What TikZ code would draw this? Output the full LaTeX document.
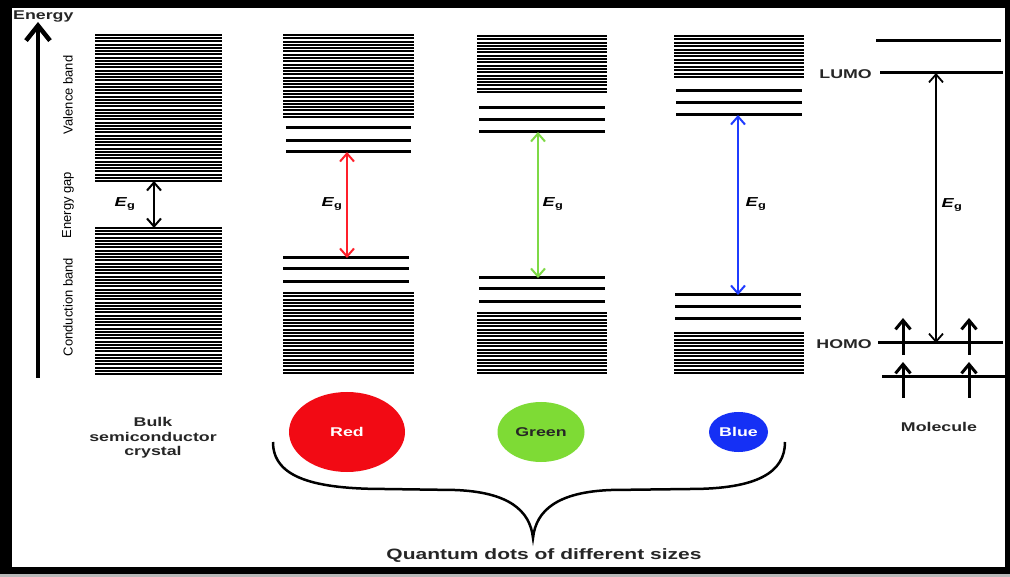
\documentclass[tikz,border=0pt]{standalone}
\usepackage{fontspec}
\setmainfont{Liberation Sans}
\newfontfamily\wf{Liberation Sans}[FakeStretch=1.4]
\usetikzlibrary{arrows.meta,shapes.geometric}
\newcommand\dband[5]{\foreach \i in {0,...,#5}{\draw[dense] (#1,{#3+\i*(#4-#3)/#5}) -- (#2,{#3+\i*(#4-#3)/#5});}}
\definecolor{qred}{HTML}{F20A14}
\definecolor{qgreen}{HTML}{7EDB35}
\definecolor{qblue}{HTML}{1530F5}
\definecolor{ared}{HTML}{FF1F2A}
\definecolor{agreen}{HTML}{7ED946}
\definecolor{ablue}{HTML}{1F3CFF}
\begin{document}
\begin{tikzpicture}[x=1pt,y=-1pt,
  dense/.style={line width=2pt},
  level/.style={line width=3pt},
  lab/.style={font=\wf\bfseries\fontsize{12.7}{14.5}\selectfont, inner sep=0pt, align=center, text=black!85},
  side/.style={font=\fontsize{13}{14}\selectfont, rotate=90, inner sep=0pt},
  eg/.style={font=\wf\bfseries\fontsize{13}{14}\selectfont, inner sep=0pt},
  gap/.style={line width=2pt, {Straight Barb[length=8pt,width=14pt]}-{Straight Barb[length=8pt,width=14pt]}},
  spin/.style={line width=3pt, -{Straight Barb[length=9pt,width=15pt]}},
  dot/.style={ellipse, inner sep=0pt, font=\wf\bfseries\fontsize{12.7}{14}\selectfont},
]
\useasboundingbox (0,0) rectangle (1010,577);
% frame
\fill[black] (0,0) rectangle (1010,577);
\fill[white] (12,8) rectangle (1005,567);
\fill[gray!55] (0,574) rectangle (1010,577);

% energy axis
\node[lab, anchor=west] (energy) at (13,16) {Energy};
\coordinate (ax0) at (38,378);
\coordinate (ax1) at (38,22);
\draw[line width=4.5pt, -{Straight Barb[length=15pt,width=24pt]}] (ax0) -- (ax1);
\node[side] (vb) at (68,95) {Valence band};
\node[side] (eglab) at (68,205) {Energy gap};
\node[side] (cb) at (68,307) {Conduction band};

% bulk
\dband{95}{222}{35}{181}{45}
\dband{95}{222}{228}{374}{45}
\coordinate (bT) at (154,181);
\coordinate (bB) at (154,228);
\draw[gap, black] (bT) -- (bB);
\node[eg] (egb) at (125,204) {\textit{E}\textsubscript{g}};

% red
\dband{283}{414}{35}{117}{25}
\foreach \y in {128,141,152} \draw[level] (286,\y) -- (411,\y);
\foreach \y in {258,269,282} \draw[level] (283,\y) -- (409,\y);
\dband{283}{414}{293}{373}{24}
\coordinate (rT) at (347,152);
\coordinate (rB) at (347,258);
\draw[gap, ared] (rT) -- (rB);
\node[eg] (egr) at (332,204) {\textit{E}\textsubscript{g}};

% green
\dband{477}{607}{36}{92}{17}
\foreach \y in {108,120,132} \draw[level] (479,\y) -- (605,\y);
\foreach \y in {278,289,302} \draw[level] (479,\y) -- (605,\y);
\dband{477}{607}{313}{373}{18}
\coordinate (gT) at (538,132);
\coordinate (gB) at (538,278);
\draw[gap, agreen] (gT) -- (gB);
\node[eg] (egg) at (553,204) {\textit{E}\textsubscript{g}};

% blue
\dband{674}{804}{36}{77}{12}
\foreach \y in {91,103,115} \draw[level] (676,\y) -- (802,\y);
\foreach \y in {295,307,319} \draw[level] (675,\y) -- (801,\y);
\dband{674}{804}{333}{373}{12}
\coordinate (uT) at (738,115);
\coordinate (uB) at (738,295);
\draw[gap, ablue] (uT) -- (uB);
\node[eg] (egu) at (756,204) {\textit{E}\textsubscript{g}};

% molecule
\draw[level] (876,41) -- (1001,41);
\draw[level] (880,73) -- (1003,73);
\draw[level] (878,343) -- (1003,343);
\draw[level] (882,377) -- (1005,377);
\node[lab, anchor=east] (lumo) at (872,74) {LUMO};
\node[lab, anchor=east] (homo) at (872,344) {HOMO};
\coordinate (mT) at (936,73);
\coordinate (mB) at (936,343);
\draw[gap, black, line width=1.8pt] (mT) -- (mB);
\node[eg] (egm) at (952,205) {\textit{E}\textsubscript{g}};
\coordinate (s1a) at (903,355); \coordinate (s1b) at (903,318);
\coordinate (s2a) at (969,355); \coordinate (s2b) at (969,318);
\coordinate (s3a) at (903,398); \coordinate (s3b) at (903,362);
\coordinate (s4a) at (969,398); \coordinate (s4b) at (969,362);
\draw[spin] (s1a) -- (s1b);
\draw[spin] (s2a) -- (s2b);
\draw[spin] (s3a) -- (s3b);
\draw[spin] (s4a) -- (s4b);

% bottom labels
\node[lab] (bulk) at (153,438) {Bulk\\semiconductor\\crystal};
\node[lab] (mol) at (939,427) {Molecule};
\node[dot, fill=qred, minimum width=116pt, minimum height=80pt, text=white] (red) at (347,432) {Red};
\node[dot, fill=qgreen, minimum width=87pt, minimum height=60pt, text=black!85] (green) at (541,432) {Green};
\node[dot, fill=qblue, minimum width=59pt, minimum height=40pt, text=white] (blue) at (738.5,432) {Blue};

% brace
\coordinate (brL) at (273,442);
\coordinate (brT) at (533,538);
\coordinate (brR) at (785,442);
\draw[line width=2.5pt] (brL) .. controls (273,478) and (315,489) .. (385,489)
  -- (455,490) .. controls (508,492) and (530,510) .. (brT)
  .. controls (536,510) and (558,492) .. (611,490)
  -- (690,489) .. controls (758,489) and (785,472) .. (brR);
\node[lab, font=\wf\bfseries\fontsize{15}{16}\selectfont] (qd) at (544,556) {Quantum dots of different sizes};
\end{tikzpicture}
\end{document}
